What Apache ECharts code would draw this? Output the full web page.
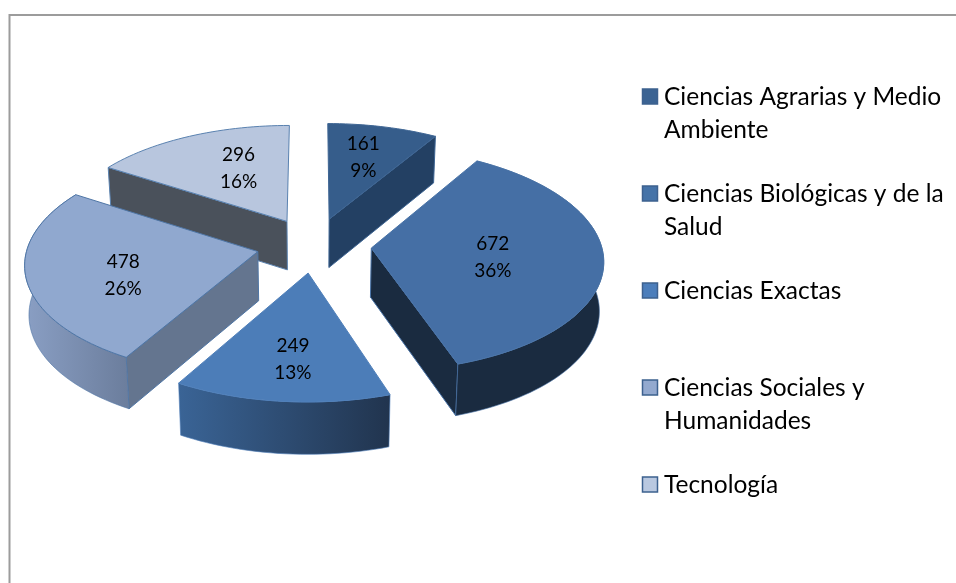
<!DOCTYPE html>
<html>
<head>
<meta charset="UTF-8">
<title>Pie 3D</title>
<script src="https://cdn.jsdelivr.net/npm/echarts@6/dist/echarts.min.js"></script>
<style>
  html, body { margin: 0; padding: 0; background: #fff; }
  #main { width: 956px; height: 583px; }
</style>
</head>
<body>
<div id="main"></div>
<script>
var categories = [
  'Ciencias Agrarias y Medio\nAmbiente',
  'Ciencias Biológicas y de la\nSalud',
  'Ciencias Exactas',
  'Ciencias Sociales y\nHumanidades',
  'Tecnología'
];
var values = [161, 672, 249, 478, 296];

// look of each slice, same order as the values
var topColors = ['#365d8b', '#456fa5', '#4c7db8', '#90a8cf', '#b8c6de'];
var edgeColors = ['#3f6694', '#4a74a8', '#5080ba', '#4f76a6', '#5a82b0'];
var cutColors = ['#234063', '#1a2b40', '#22364f', '#64758f', '#4a515b'];
var arcColors = [['#234063', '#234063'], ['#1a2b40', '#1a2b40'], ['#3a6496', '#21344e'], ['#8a9fc4', '#6b7d9c'], ['#4a515b', '#4a515b']];
var swatchColors = ['#3b6393', '#4573a8', '#4c7ebb', '#93a9cf', '#b9c8e0'];
var paintOrder = [1, 2, 4, 3, 0]; // rank per slice, back ones first

// where the value labels sit inside their slice
var labelRadius = [0.65, 0.53, 0.70, 0.60, 0.59];
var labelShiftX = [-2, -1, 3, 3, 11];
var labelShiftY = [0, 3, 0, 8, -1];

// projection of the tilted pie
var cx = 314, cy = 245, A = 230, B = 110, K = 0.1, H = 49, explode = 0.25;
var FONT = 'Lato';

var total = values.reduce(function (a, b) { return a + b; }, 0);

function project(u, v, bottom) {
  var w = 1 - K * v;
  var sx = cx + A * u / w, sy = cy + B * v / w;
  if (bottom) {
    sx = cx + (sx - cx) * 0.985;
    sy += H / Math.sqrt(w);
  }
  return [sx, sy];
}

function renderSlice(params, api) {
  var i = params.dataIndex;
  var before = 0;
  for (var n = 0; n < i; n++) before += values[n];
  var t0 = before / total * Math.PI * 2;
  var t1 = (before + api.value(0)) / total * Math.PI * 2;
  var mid = (t0 + t1) / 2;
  var ou = Math.sin(mid) * explode, ov = -Math.cos(mid) * explode;

  var rim = function (t, r, bottom) {
    return project(ou + Math.sin(t) * r, ov - Math.cos(t) * r, bottom);
  };
  var arcTop = [], arcBottom = [];
  var steps = Math.ceil((t1 - t0) / 0.03);
  for (var s = 0; s <= steps; s++) {
    var t = t0 + (t1 - t0) * s / steps;
    arcTop.push(rim(t, 1, false));
    arcBottom.push(rim(t, 1, true));
  }

  var rank = paintOrder[i] * 10;
  var kids = [];
  var edge = { stroke: edgeColors[i], lineWidth: 1 };

  // side cut on the start or end of the slice, only when it faces us
  var tip = rim(t0, 0, false), tipB = rim(t0, 0, true);
  if (Math.sin(t0) < -0.01) {
    kids.push(poly([tip, arcTop[0], arcBottom[0], tipB], cutColors[i], edge, rank + 1));
  }
  if (Math.sin(t1) > 0.01) {
    kids.push(poly([tip, arcTop[steps], arcBottom[steps], tipB], cutColors[i], edge, rank + 1));
  }
  // outer wall, under the top face
  if (Math.cos(mid) < 0.5) {
    var wall = new echarts.graphic.LinearGradient(0, 0, 1, 0, [
      { offset: 0, color: arcColors[i][0] },
      { offset: 1, color: arcColors[i][1] }
    ]);
    kids.push(poly(arcTop.concat(arcBottom.slice().reverse()), wall, { stroke: edgeColors[i], lineWidth: 0.6 }, rank + 2));
  }
  // top face
  kids.push(poly([tip].concat(arcTop), topColors[i], edge, rank + 3));

  // value and percent
  var lp = rim(mid, labelRadius[i], false);
  kids.push({
    type: 'text', x: lp[0] + labelShiftX[i], y: lp[1] + labelShiftY[i], z2: 100,
    style: {
      text: values[i] + '\n' + Math.round(values[i] / total * 100) + '%',
      fill: '#000', fontFamily: FONT, fontSize: 19, lineHeight: 27,
      align: 'center', verticalAlign: 'middle'
    }
  });

  // legend row
  var rowY = 97 + i * 97;
  kids.push({
    type: 'rect', z2: 100,
    shape: { x: 642.5, y: rowY - 8, width: 15, height: 15 },
    style: { fill: swatchColors[i], stroke: '#3d618f', lineWidth: 1.5 }
  });
  kids.push({
    type: 'text', x: 664, y: rowY - 16, z2: 100,
    style: {
      text: categories[i], fill: '#000', fontFamily: FONT, fontSize: 24.5, lineHeight: 33,
      align: 'left', verticalAlign: 'top'
    }
  });
  return { type: 'group', children: kids };
}

function poly(points, fill, line, z2) {
  return {
    type: 'polygon', z2: z2,
    shape: { points: points },
    style: { fill: fill, stroke: line.stroke, lineWidth: line.lineWidth }
  };
}

var myChart = echarts.init(document.getElementById('main'), null, { renderer: 'canvas' });
myChart.setOption({
  animation: false,
  backgroundColor: '#fff',
  graphic: [{
    type: 'polyline',
    shape: { points: [[9.5, 583], [9.5, 15], [956, 15]] },
    style: { stroke: '#9c9c9c', lineWidth: 2, fill: null }
  }],
  series: [{
    type: 'custom',
    coordinateSystem: 'none',
    renderItem: renderSlice,
    data: values
  }]
});
</script>
</body>
</html>
